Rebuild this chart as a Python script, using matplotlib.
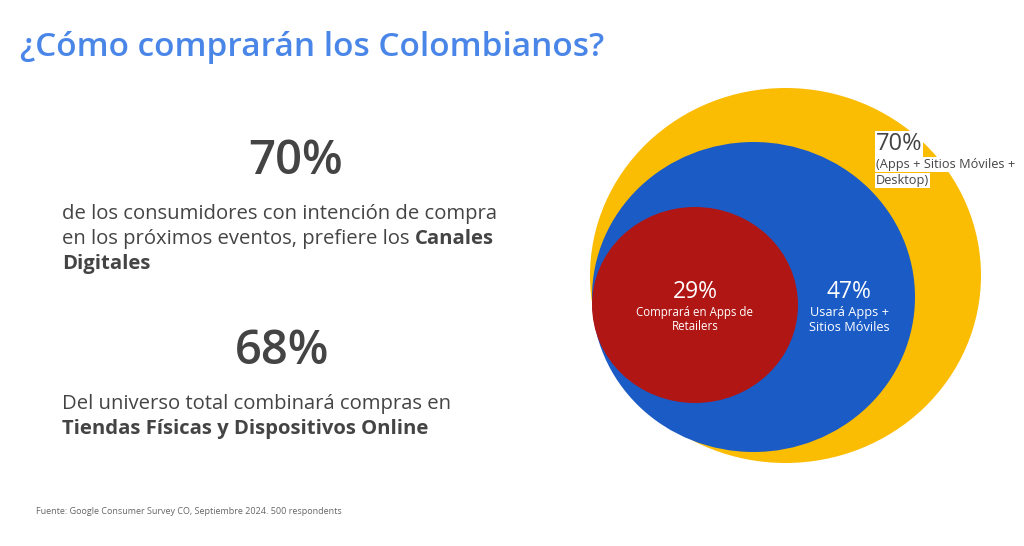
import matplotlib
matplotlib.use("Agg")
import matplotlib.pyplot as plt
from matplotlib.patches import Ellipse

plt.rcParams["font.family"] = ["Open Sans", "DejaVu Sans"]

# Data
title = "¿Cómo comprarán los Colombianos?"
headline_values = [70, 68]
headline_text = [
    ["de los consumidores con intención de compra",
     ("en los próximos eventos, prefiere los ", "Canales"),
     ("", "Digitales")],
    ["Del universo total combinará compras en",
     ("", "Tiendas Físicas y Dispositivos Online")],
]
circle_values = [70, 47, 29]
circle_labels = ["(Apps + Sitios Móviles +\nDesktop)", "Usará Apps +\nSitios Móviles", "Comprará en Apps de\nRetailers"]
source = "Fuente: Google Consumer Survey CO, Septiembre 2024. 500 respondents"

# Layout (pixels)
circle_colors = ["#FBBC04", "#1A5BC6", "#B01614"]
circle_centers = [(785.5, 275.5), (753.5, 297), (695, 305)]
circle_sizes = [(391, 375), (323, 310), (206, 196)]

W, H = 1024, 546
fig = plt.figure(figsize=(W / 100, H / 100), dpi=100)
ax = fig.add_axes([0, 0, 1, 1])
ax.set_xlim(0, W)
ax.set_ylim(H, 0)
ax.axis("off")

dark = "#444444"

ax.text(20, 56, title, fontsize=24, fontweight="semibold", color="#4A86E8", va="baseline")

renderer = fig.canvas.get_renderer()


def write_line(x, y, line, size):
    if isinstance(line, str):
        ax.text(x, y, line, fontsize=size, color=dark, va="baseline")
        return
    normal, bold = line
    x0 = x
    if normal:
        t = ax.text(x, y, normal, fontsize=size, color=dark, va="baseline")
        bb = t.get_window_extent(renderer)
        x0 = x + bb.width
    ax.text(x0, y, bold, fontsize=size, color=dark, va="baseline", fontweight="bold")


# Left block
stat_x = [296, 282]
stat_y = [174, 364]
para_y = [219, 409]
for i, v in enumerate(headline_values):
    ax.text(stat_x[i], stat_y[i], f"{v}%", fontsize=34, fontweight="semibold", color=dark,
            ha="center", va="baseline")
    for j, line in enumerate(headline_text[i]):
        write_line(62, para_y[i] + j * 25, line, 14.6)

# Circles
for c, (cx, cy), (w, h) in zip(circle_colors, circle_centers, circle_sizes):
    ax.add_patch(Ellipse((cx, cy), w, h, color=c, lw=0))

# Outer circle label with white background
ax.text(876, 150, f"{circle_values[0]}%", fontsize=17, color=dark, va="baseline",
        bbox=dict(facecolor="white", edgecolor="none", pad=0.5))
for j, line in enumerate(circle_labels[0].split("\n")):
    ax.text(876, 168 + j * 16, line, fontsize=9.2, color=dark, va="baseline",
            bbox=dict(facecolor="white", edgecolor="none", pad=0.5))

# Blue circle label
ax.text(849, 298, f"{circle_values[1]}%", fontsize=16.5, color="white", ha="center", va="baseline")
for j, line in enumerate(circle_labels[1].split("\n")):
    ax.text(849, 316 + j * 15, line, fontsize=9.2, color="white", ha="center", va="baseline")

# Red circle label
ax.text(695, 298, f"{circle_values[2]}%", fontsize=16.5, color="white", ha="center", va="baseline")
for j, line in enumerate(circle_labels[2].split("\n")):
    ax.text(695, 316 + j * 14, line, fontsize=8.3, color="white", ha="center", va="baseline")

ax.text(36, 514, source, fontsize=6.5, color="#666666", va="baseline")

fig.savefig("out.png", dpi=100, facecolor="white")
